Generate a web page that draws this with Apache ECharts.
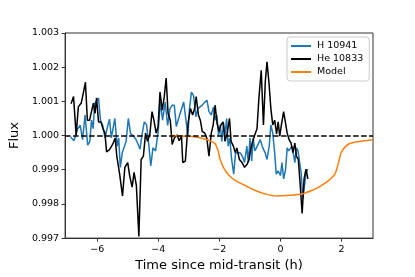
<!DOCTYPE html>
<html>
<head>
<meta charset="utf-8">
<script src="https://cdn.jsdelivr.net/npm/echarts@6/dist/echarts.min.js"></script>
<style>
html,body{margin:0;padding:0;background:#fff;}
#chart{width:415px;height:277px;}
</style>
</head>
<body>
<div id="chart"></div>
<script>
// ---- data ----
const seriesNames = ['H 10941', 'He 10833', 'Model'];

const hTime = [-6.868,-6.761,-6.698,-6.635,-6.553,-6.478,-6.396,-6.311,-6.239,-6.186,-6.132,-6.082,-6.019,-5.956,-5.893,-5.818,-5.745,-5.660,-5.597,-5.535,-5.478,-5.421,-5.346,-5.296,-5.242,-5.179,-5.116,-5.053,-4.981,-4.906,-4.824,-4.739,-4.667,-4.597,-4.541,-4.456,-4.384,-4.321,-4.245,-4.173,-4.088,-4.006,-3.931,-3.858,-3.774,-3.692,-3.616,-3.544,-3.475,-3.409,-3.333,-3.252,-3.167,-3.094,-3.031,-2.978,-2.915,-2.843,-2.767,-2.704,-2.632,-2.560,-2.475,-2.403,-2.340,-2.264,-2.192,-2.138,-2.082,-2.025,-1.972,-1.918,-1.862,-1.814,-1.761,-1.711,-1.657,-1.604,-1.531,-1.469,-1.406,-1.327,-1.248,-1.176,-1.101,-1.050,-0.997,-0.943,-0.893,-0.840,-0.786,-0.736,-0.660,-0.579,-0.503,-0.440,-0.368,-0.314,-0.252,-0.189,-0.138,-0.075,0.000,0.050,0.104,0.167,0.220,0.270,0.324,0.377,0.418,0.472,0.522,0.575,0.629,0.679,0.733,0.786,0.836,0.890];
const hFlux = [0.99996,0.99985,0.99990,1.00020,1.00030,0.99988,1.00060,0.99972,0.99983,1.00045,1.00020,1.00093,1.00090,1.00110,1.00045,1.00030,0.99993,1.00026,1.00048,0.99993,0.99995,1.00050,0.99969,0.99993,0.99907,0.99950,0.99955,0.99983,1.00050,1.00005,1.00000,0.99990,0.99976,0.99960,0.99998,1.00040,1.00032,0.99983,0.99911,0.99964,0.99955,1.00010,1.00098,1.00045,1.00098,1.00030,1.00079,1.00089,1.00089,1.00026,1.00050,1.00074,1.00098,1.00045,0.99998,1.00079,1.00127,1.00117,1.00055,1.00079,1.00084,1.00089,1.00098,1.00103,1.00070,1.00060,1.00084,1.00045,1.00060,0.99998,1.00031,0.99983,1.00036,1.00002,1.00050,0.99969,0.99993,0.99935,0.99887,0.99950,0.99950,0.99950,0.99940,0.99921,0.99969,0.99921,0.99993,0.99926,0.99993,0.99955,0.99964,0.99960,0.99988,0.99964,0.99950,0.99930,0.99969,1.00031,1.00007,0.99950,0.99887,0.99897,0.99883,0.99921,0.99873,0.99900,0.99964,0.99955,0.99955,0.99969,0.99950,0.99921,0.99964,0.99955,0.99921,0.99890,0.99815,0.99854,0.99887,0.99902];

const heTime = [-6.855,-6.774,-6.689,-6.616,-6.522,-6.459,-6.384,-6.321,-6.248,-6.176,-6.123,-6.069,-6.019,-5.956,-5.881,-5.808,-5.745,-5.692,-5.597,-5.494,-5.409,-5.358,-5.264,-5.170,-5.094,-5.000,-4.937,-4.855,-4.792,-4.717,-4.635,-4.560,-4.487,-4.415,-4.352,-4.277,-4.204,-4.142,-4.069,-4.006,-3.943,-3.868,-3.805,-3.742,-3.679,-3.607,-3.544,-3.472,-3.387,-3.314,-3.239,-3.198,-3.113,-3.019,-2.947,-2.874,-2.811,-2.758,-2.685,-2.623,-2.560,-2.475,-2.412,-2.340,-2.264,-2.201,-2.138,-2.075,-2.013,-1.950,-1.877,-1.814,-1.742,-1.667,-1.616,-1.541,-1.478,-1.428,-1.343,-1.258,-1.176,-1.091,-1.028,-0.997,-0.925,-0.840,-0.767,-0.704,-0.629,-0.557,-0.494,-0.440,-0.377,-0.314,-0.252,-0.189,-0.126,-0.075,-0.022,0.031,0.104,0.167,0.220,0.283,0.346,0.409,0.472,0.522,0.585,0.648,0.711,0.774,0.836,0.899];
const heFlux = [1.00093,1.00114,1.00002,1.00084,1.00095,1.00122,1.00156,1.00045,1.00045,1.00074,1.00095,1.00065,1.00110,1.00040,1.00040,1.00020,1.00007,0.99952,0.99959,0.99974,0.99993,0.99940,0.99887,0.99823,0.99907,0.99921,0.99883,0.99849,0.99892,0.99854,0.99705,0.99930,0.99940,1.00007,0.99983,1.00002,1.00070,1.00045,1.00007,1.00026,1.00127,1.00074,1.00113,1.00168,1.00065,1.00045,0.99974,0.99993,1.00002,0.99985,0.99998,0.99921,0.99925,1.00040,1.00079,1.00060,1.00079,1.00114,1.00060,1.00045,1.00012,1.00007,0.99993,0.99940,1.00007,1.00031,1.00089,1.00036,1.00012,1.00031,1.00040,0.99983,1.00007,1.00050,0.99983,0.99969,0.99950,0.99964,0.99930,0.99921,0.99907,0.99916,0.99930,0.99950,0.99978,1.00002,1.00020,1.00111,1.00191,1.00031,1.00160,1.00216,1.00156,1.00079,1.00031,1.00045,1.00005,1.00040,0.99998,1.00031,1.00070,1.00036,1.00007,0.99988,0.99978,0.99950,0.99978,0.99940,0.99930,0.99854,0.99772,0.99873,0.99902,0.99873];

const modelTime = [-3.575,-3.104,-2.789,-2.475,-2.264,-2.138,-2.057,-1.972,-1.868,-1.689,-1.428,-1.154,-0.840,-0.525,-0.107,0.314,0.733,1.047,1.258,1.572,1.780,1.887,2.013,2.252,2.619,3.038];
const modelFlux = [1.00000,0.99998,0.99996,0.99990,0.99983,0.99976,0.99960,0.99930,0.99907,0.99884,0.99866,0.99854,0.99840,0.99830,0.99823,0.99825,0.99830,0.99840,0.99849,0.99868,0.99887,0.99916,0.99955,0.99976,0.99983,0.99988];

const xTicks = [-6, -4, -2, 0, 2];
const yTicks = [0.997, 0.998, 0.999, 1.000, 1.001, 1.002, 1.003];
const baseline = 1.0;

// ---- chart ----
const zip = (a, b) => a.map((t, i) => [t, b[i]]);
const FONT = 'DejaVu Sans';
const chart = echarts.init(document.getElementById('chart'), null, {renderer: 'canvas'});
chart.setOption({
  animation: false,
  backgroundColor: '#fff',
  grid: {left: 52, right: 42, top: 33, bottom: 35, show: true, borderColor: '#333', borderWidth: 1, backgroundColor: 'transparent'},
  legend: {
    data: seriesNames,
    orient: 'vertical',
    left: 287, top: 37,
    padding: [4, 6, 4, 4],
    itemGap: 3,
    itemWidth: 20, itemHeight: 2,
    icon: 'rect',
    backgroundColor: 'rgba(255,255,255,0.8)',
    borderColor: '#ccc', borderWidth: 1, borderRadius: 3,
    textStyle: {fontFamily: FONT, fontSize: 9.5, color: '#000', padding: [0,0,0,1]}
  },
  xAxis: {
    type: 'value', min: -7.05, max: 3.03,
    name: 'Time since mid-transit (h)', nameLocation: 'middle', nameGap: 20,
    nameTextStyle: {fontFamily: FONT, fontSize: 13, color: '#000'},
    axisLine: {show: true, onZero: false, lineStyle: {color: '#333', width: 1}},
    axisTick: {show: true, length: 3.5, customValues: xTicks, lineStyle: {color: '#333'}},
    axisLabel: {customValues: xTicks, margin: 6, fontFamily: FONT, fontSize: 9.5, color: '#000',
      formatter: v => v < 0 ? '\u2212' + Math.abs(v) : String(v)},
    splitLine: {show: false}
  },
  yAxis: {
    type: 'value', min: 0.997, max: 1.003,
    name: 'Flux', nameLocation: 'middle', nameGap: 33, nameRotate: 90,
    nameTextStyle: {fontFamily: FONT, fontSize: 13, color: '#000'},
    axisLine: {show: true, onZero: false, lineStyle: {color: '#333', width: 1}},
    axisTick: {show: true, length: 3.5, customValues: yTicks, lineStyle: {color: '#333'}},
    axisLabel: {customValues: yTicks, margin: 6, fontFamily: FONT, fontSize: 9.5, color: '#000',
      formatter: v => v.toFixed(3)},
    splitLine: {show: false}
  },
  series: [
    {name: seriesNames[0], type: 'line', data: zip(hTime, hFlux), symbol: 'none', color: '#1f77b4',
     lineStyle: {width: 1.5, color: '#1f77b4'}, z: 2},
    {name: seriesNames[1], type: 'line', data: zip(heTime, heFlux), symbol: 'none', color: '#000',
     lineStyle: {width: 1.5, color: '#000'}, z: 3},
    {name: seriesNames[2], type: 'line', data: zip(modelTime, modelFlux), symbol: 'none', color: '#ff7f0e', smooth: 0.3,
     lineStyle: {width: 1.5, color: '#ff7f0e'}, z: 4,
     markLine: {silent: true, symbol: 'none', label: {show: false}, z: 5,
       lineStyle: {color: '#000', width: 1.5, type: [5.5, 2.5]},
       data: [{yAxis: baseline}]}}
  ]
});
</script>
</body>
</html>
